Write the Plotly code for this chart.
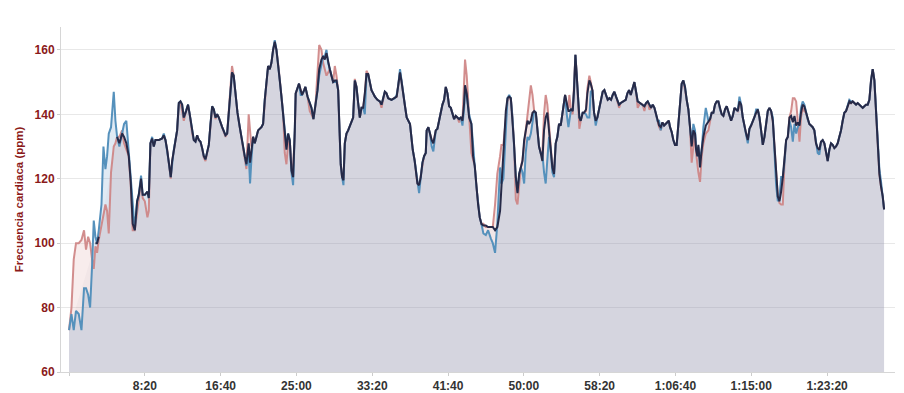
import plotly.graph_objects as go

# time in seconds
seconds = [
    0, 16, 31, 46, 64, 82, 99, 112, 126, 139,
    152, 163, 174, 185, 196, 214, 227, 240, 251, 262,
    277, 295, 306, 317, 332, 350, 363, 378, 394, 407,
    420, 434, 449, 460, 475, 486, 500, 517, 526, 537,
    548, 559, 570, 592, 614, 625, 636, 647, 658, 671,
    680, 691, 713, 724, 735, 746, 757, 772, 785, 796,
    812, 823, 834, 845, 856, 867, 878, 889, 900, 922,
    933, 944, 955, 966, 977, 988, 1010, 1032, 1043, 1060,
    1075, 1086, 1097, 1111, 1126, 1137, 1148, 1159, 1170, 1185,
    1194, 1203, 1214, 1225, 1247, 1269, 1280, 1291, 1302, 1313,
    1324, 1335, 1346, 1357, 1368, 1379, 1390, 1401, 1412, 1423,
    1434, 1445, 1456, 1467, 1478, 1489, 1495, 1506, 1517, 1528,
    1537, 1551, 1559, 1573, 1588, 1599, 1612, 1625, 1639, 1650,
    1665, 1676, 1687, 1698, 1709, 1720, 1731, 1742, 1753, 1764,
    1775, 1786, 1792, 1801, 1810, 1819, 1830, 1841, 1852, 1863,
    1874, 1885, 1896, 1907, 1918, 1929, 1940, 1951, 1962, 1973,
    1984, 1995, 2006, 2017, 2034, 2050, 2061, 2072, 2083, 2094,
    2105, 2127, 2149, 2161, 2170, 2183, 2192, 2205, 2216, 2227,
    2238, 2249, 2258, 2267, 2280, 2289, 2298, 2309, 2320, 2331,
    2342, 2353, 2359, 2370, 2381, 2392, 2403, 2419, 2430, 2441,
    2452, 2463, 2474, 2485, 2496, 2507, 2518, 2529, 2540, 2551,
    2562, 2573, 2584, 2595, 2606, 2612, 2623, 2639, 2654, 2665,
    2676, 2687, 2698, 2709, 2720, 2733, 2749, 2764, 2782, 2795,
    2810, 2825, 2843, 2852, 2865, 2881, 2892, 2903, 2914, 2925,
    2935, 2947, 2958, 2969, 2980, 2991, 3002, 3012, 3024, 3034,
    3046, 3057, 3068, 3079, 3090, 3100, 3111, 3122, 3133, 3144,
    3155, 3166, 3177, 3188, 3199, 3210, 3221, 3232, 3243, 3254,
    3261, 3272, 3283, 3294, 3300, 3311, 3322, 3331, 3340, 3349,
    3360, 3366, 3375, 3388, 3397, 3410, 3419, 3432, 3441, 3452,
    3463, 3474, 3485, 3496, 3507, 3520, 3531, 3542, 3553, 3564,
    3575, 3586, 3597, 3608, 3617, 3628, 3639, 3656, 3672, 3683,
    3694, 3705, 3718, 3729, 3740, 3751, 3766, 3784, 3795, 3806,
    3817, 3828, 3839, 3850, 3861, 3872, 3881, 3892, 3903, 3914,
    3925, 3936, 3947, 3956, 3964, 3975, 3986, 3997, 4008, 4019,
    4030, 4041, 4052, 4063, 4074, 4085, 4096, 4107, 4118, 4129,
    4136, 4145, 4151, 4162, 4173, 4184, 4200, 4217, 4228, 4239,
    4250, 4261, 4272, 4283, 4294, 4305, 4316, 4327, 4338, 4349,
    4360, 4367, 4378, 4389, 4400, 4411, 4422, 4433, 4444, 4455,
    4466, 4477, 4488, 4499, 4510, 4521, 4532, 4543, 4554, 4565,
    4576, 4587, 4598, 4609, 4620, 4631, 4642, 4653, 4664, 4675,
    4686, 4697, 4708, 4719, 4730, 4741, 4752, 4763, 4774, 4785,
    4796, 4807, 4818, 4828, 4839, 4850, 4861, 4872, 4883, 4894,
    4905, 4916, 4927, 4938, 4949, 4960, 4971, 4982, 4993, 5004,
    5015, 5026, 5037, 5048, 5059, 5070, 5081, 5092, 5103, 5114,
    5125, 5136, 5147, 5158, 5169, 5180, 5191, 5202, 5213, 5224,
    5235, 5246, 5257, 5268, 5279, 5290, 5301, 5312, 5323, 5334,
    5345, 5356, 5367, 5376,
]

# combined heart rate (dark line)
hr_combined = [
    73, None, None, None, None, None, None, None, None, None,
    None, None, 100, 100, 102, None, None, None, None, None,
    None, None, None, 133, 131, 134, 133, 131, 127, 119,
    106, 104, 113, 115, 120, 115, 115, 116, 114, 131,
    132.5, 130, 132, 132, 132.5, 133.5, 132, 129, 125, 120.5,
    125.5, 129, 135, 143.5, 144, 143, 139, 141, 143, 140,
    135, 132, 131.5, 133.5, 132, 131.5, 129.5, 127, 126, 130.5,
    137, 142.5, 141.5, 139, 140, 139, 136, 133.5, 134, 145.5,
    153, 152, 146.5, 140.5, 136, 133, 129, 127, 124.5, 131,
    125, 129, 133, 131, 135, 136, 137, 144.5, 149.5, 155,
    154, 156, 160, 162.5, 160, 156, 150.5, 145.5, 140.5, 135,
    129, 134, 132, 122.5, 120.5, 135, 146.5, 148, 149.5, 147.5,
    146, 147.5, 148.5, 145.5, 143.5, 142, 138.5, 142.5, 147.5, 154,
    157, 158, 157, 159, 156, 154, 152, 150, 150.5, 150.5,
    147.5, 135, 124.5, 120.5, 119.5, 131, 134, 135, 136.5, 138,
    139, 150.5, 148.5, 143.5, 139, 142, 142, 146.5, 152.5, 152.5,
    149.5, 147.5, 146.5, 145.5, 144.5, 144, 143, 145, 147, 146.5,
    145, 144.5, 145, 145.5, 148.5, 153, 150.5, 145.5, 142.5, 139,
    138, 137, 133, 129, 125.5, 122.5, 118.5, 118, 120.5, 125,
    127, 128, 135, 136, 134, 132, 131, 135, 135.5, 138,
    141.5, 143, 144.5, 148.5, 146.5, 142.5, 142, 140.5, 138.5, 139.5,
    139, 138.5, 139, 138, 143.5, 149, 146.5, 139, 137, 127,
    124, 117.5, 112, 108, 106, 105.5, 105.5, 105, 105, 105,
    104, 105, 110, 118, 130, 141, 145, 145.5, 145, 139,
    131, 120.5, 115.5, 121.5, 123.5, 125.5, 132, 135, 138, 137,
    138, 140.5, 141, 140.5, 135, 130, 128, 125.5, 135, 139,
    140.5, 135, 129, 123.5, 121.5, 131, 133, 137, 136.5, 140.5,
    142.5, 146, 143.5, 141, 141, 141.5, 141, 147.5, 158.5, 152.5,
    142.5, 139, 138, 140.5, 140.5, 141.5, 146.5, 150.5, 149.5, 147.5,
    140.5, 138, 139, 141.5, 143.5, 147, 147.5, 146, 144.5, 145,
    144.5, 146, 147, 145.5, 144, 143, 143.5, 144, 144.5, 146.5,
    147.5, 146, 148.5, 150, 147, 144, 143.5, 143, 142.5, 143.5,
    144, 143, 142, 143, 142, 140, 138, 136.5, 136, 137.5,
    136.5, 137, 137.5, 138, 136, 134.5, 132, 130.5, 130.5, 137,
    145.5, 149.5, 150.5, 148.5, 144.5, 141.5, 136, 130, 135, 134,
    129, 127, 130.5, 123.5, 129, 133, 136.5, 137.5, 138.5, 140.5,
    140.5, 143, 144, 144, 141.5, 140, 139.5, 141.5, 142.5, 141,
    139, 138, 139.5, 142, 141.5, 141, 144, 143, 139, 136,
    134, 132, 135.5, 136.5, 138, 139, 140.5, 141.5, 139, 135,
    130.5, 133, 137, 141, 142, 141, 138, 129, 120.5, 114.5,
    113, 116, 120.5, 125.5, 132, 133, 139, 139.5, 137.5, 139.5,
    136.5, 137.5, 136.5, 140.5, 143, 142.5, 140.5, 138.5, 137, 136.5,
    136, 135, 131, 129.5, 129, 131.5, 132, 131, 128.5, 125.5,
    129, 131, 130.5, 129.5, 130, 131, 133, 135, 138, 140.5,
    141, 142.5, 144, 143.5, 144, 143.5, 143, 143.5, 143, 142.5,
    142, 142.5, 143, 143, 144.5, 150.5, 154, 150.5, 140.5, 128,
    121.5, 117.5, 114.5, 110.5,
]

# device 1 (red line)
hr_red = [
    73, 80, 95, 100, 100, 101, 104, 98, 102, 100,
    95, 92, 99, 97, 101, 106, 109, 112, 110, 103,
    122, 130, 131, 133, 133, 135, 131, 129, 127, 118,
    104, 104, 110, 114, 119, 114, 113, 108, 110, 131,
    132, 130, 132, 132, 132.5, 133.5, 132, 129, 124, 120,
    125.5, 129, 135, 143, 143.5, 141, 138, 141, 142.5, 140,
    134, 132, 131.5, 133.5, 132, 131.5, 129.5, 126.5, 125.5, 130.5,
    137, 142, 141, 138.5, 140, 139, 136, 133, 134, 145.5,
    155, 152, 146.5, 140.5, 136, 133, 129, 127, 123, 140,
    134, 130, 133, 131, 135, 136, 137, 144.5, 149.5, 155,
    154, 156, 160, 162, 160, 156, 150.5, 145.5, 140.5, 128,
    124.5, 131, 132, 123, 124, 133, 146.5, 148, 149.5, 147.5,
    146, 147.5, 148.5, 145.5, 141, 140, 138.5, 142.5, 152, 161.5,
    160, 156, 154, 152, 153, 154, 152, 150, 155, 152,
    147.5, 135, 124.5, 120.5, 120, 131, 134, 135, 136.5, 138,
    139, 151, 148.5, 143.5, 139, 142, 142, 146, 153.5, 152.5,
    149.5, 147.5, 146.5, 145.5, 144.5, 144, 142, 145, 147, 146.5,
    145, 144.5, 145, 145.5, 148.5, 153, 150.5, 145.5, 142.5, 139,
    138, 137, 133, 129, 125.5, 122.5, 118.5, 118, 120.5, 124,
    127, 128, 135, 136, 134, 132, 131, 135, 135.5, 138,
    141.5, 143, 144.5, 148.5, 146.5, 142.5, 142, 140.5, 138.5, 139.5,
    139, 137.5, 139, 138, 150, 157, 152, 140, 128, 126,
    124, 117.5, 112, 108, 106, 106, 105, 105, 105, 105,
    112, 121.5, 127, 130.5, 130.5, 140, 144, 145, 145, 139,
    131, 113.5, 112, 118, 123.5, 126, 131, 135, 140, 145,
    149, 146, 141, 140.5, 135, 130, 128, 128, 140, 146,
    143, 137, 129, 124, 122, 131, 133, 137, 136.5, 140.5,
    142.5, 146, 143, 142, 146, 141.5, 140, 147.5, 158.5, 152.5,
    142.5, 135.5, 138, 140.5, 140.5, 141, 148, 152, 150, 147.5,
    140.5, 138, 139, 141.5, 143.5, 147, 147.5, 146, 144.5, 145,
    144.5, 146, 147, 145.5, 144, 142, 143.5, 144, 144.5, 146.5,
    147.5, 146, 148.5, 150, 147, 142, 143.5, 143, 141, 143.5,
    144, 141.5, 142, 143, 142, 140, 138, 136, 135, 137.5,
    136.5, 137, 137.5, 138, 136, 134.5, 132, 130.5, 130.5, 137,
    145.5, 149.5, 150.5, 147, 144.5, 141.5, 136, 125, 130, 134,
    128, 124, 122, 119, 127, 131, 134, 135, 138.5, 140.5,
    140.5, 143, 144, 144, 141.5, 140, 139.5, 141.5, 142.5, 141,
    139, 138, 139.5, 142, 141.5, 141, 143, 143, 139, 136,
    134, 132, 135.5, 136.5, 138, 139, 140.5, 141.5, 139, 135,
    130.5, 133, 137, 141, 142, 141, 138, 131, 122, 114.5,
    112.5, 112, 112, 125, 132, 133, 139, 141, 145, 145,
    144, 137, 131.5, 139, 142, 141, 140.5, 138.5, 137, 136.5,
    136, 135, 131, 129, 128.5, 131.5, 132, 131, 128.5, 125.5,
    129, 131, 130.5, 129.5, 130, 131, 133, 135, 138, 140.5,
    141, 142.5, 144, 143.5, 144, 143.5, 143, 143.5, 143, 142.5,
    142, 142.5, 143, 143, 144.5, 150.5, 154, 150.5, 140.5, 128,
    121.5, 117.5, 114.5, 110.5,
]

# device 2 (blue line)
hr_blue = [
    73, 78, 73, 79, 78, 73, 86, 86, 84, 80,
    93, 107, 102, 100, 104, 112, 130, 123, 127, 134,
    136, 147, 138, 133, 130, 134, 137, 138, 128, 122,
    112, 104, 113, 115, 121, 115, 115, 116, 114, 131,
    133, 130, 132, 132, 132.5, 134, 132, 129, 125, 120.5,
    125.5, 129, 135, 143.5, 144, 143, 139, 141, 143, 140,
    135, 132, 131.5, 133.5, 132, 131.5, 129.5, 127, 126, 130.5,
    137, 142.5, 141.5, 139, 140, 139, 136, 133.5, 134, 145.5,
    153, 152, 146.5, 140.5, 136, 133, 129, 127, 124, 128,
    118.5, 126, 133, 131, 135, 136, 137, 144.5, 149.5, 155,
    154, 156, 160, 163, 160, 156, 150.5, 145.5, 140.5, 135,
    130, 134, 132, 122, 118, 135, 146.5, 148, 149.5, 146,
    146, 147.5, 148.5, 145.5, 143.5, 142, 138.5, 142.5, 147.5, 152,
    156, 158, 158, 160, 156, 154, 152, 150, 150, 150.5,
    147.5, 135, 124.5, 120.5, 118, 131, 134, 135, 136.5, 138,
    139, 150.5, 148.5, 143.5, 139, 142, 142, 140, 152.5, 152.5,
    149.5, 147.5, 146.5, 145.5, 144.5, 144, 143, 145, 147, 146.5,
    145, 144.5, 145, 146, 148.5, 154, 150.5, 145.5, 142.5, 139,
    138, 137, 133, 129, 125.5, 122.5, 118.5, 115.5, 120.5, 125,
    127, 128, 135, 136, 134, 130, 128.5, 135, 135.5, 138,
    141.5, 143, 144.5, 148.5, 146.5, 142.5, 142, 140.5, 138.5, 139.5,
    139, 138.5, 139, 136.5, 142, 147, 146, 140, 137, 129,
    124, 117.5, 112, 108, 106, 103, 102.5, 104, 101.5, 100,
    97, 106, 123.5, 118.5, 120, 138, 145, 146, 145, 139,
    131, 120, 116, 121.5, 123.5, 122, 118.5, 128, 133, 132,
    134, 138, 141, 140.5, 135, 130, 128, 128, 122, 118.5,
    126, 133, 129, 122, 120.5, 131, 133, 137, 136.5, 140.5,
    142.5, 146, 140, 136, 138, 141.5, 141.5, 147.5, 158.5, 152.5,
    142.5, 139, 138, 140.5, 140.5, 140, 139, 139, 147, 147.5,
    140.5, 136.5, 139, 141.5, 143.5, 147, 147.5, 146, 144.5, 145,
    144.5, 146, 147, 145.5, 144, 143, 143.5, 144, 144.5, 146.5,
    147.5, 146, 148.5, 150, 147, 144, 143.5, 143, 142.5, 143.5,
    144, 143, 142, 143, 142, 140, 138, 138, 135, 137.5,
    136.5, 137, 137.5, 138, 136, 134.5, 132, 130.5, 130.5, 137,
    145.5, 149.5, 150.5, 148.5, 144.5, 141.5, 136, 131, 137, 135,
    130, 127, 130, 126, 129, 136, 142, 138, 138.5, 140.5,
    140.5, 143, 144, 144, 141.5, 140, 139.5, 141.5, 142.5, 141,
    139, 138, 139.5, 142, 141.5, 141, 145.5, 143, 139, 136,
    134, 131, 135.5, 136.5, 138, 139, 141.5, 141.5, 139, 135,
    130.5, 133, 137, 141, 142, 141, 139, 129, 118, 113,
    114, 120.5, 120.5, 125, 132, 133, 138, 136, 131.5, 137,
    134, 136, 137, 142, 144, 143, 140.5, 138.5, 137, 136.5,
    136, 135, 131, 128, 127.5, 131.5, 132, 131, 128.5, 125.5,
    129, 131, 130.5, 129.5, 130, 131, 133, 135, 138, 140.5,
    141, 142.5, 144.5, 144, 144, 143.5, 143, 143.5, 143, 142.5,
    142, 142.5, 143, 143, 144.5, 150.5, 154, 150.5, 140.5, 129,
    123, 119, 114.5, 110.5,
]

tick_seconds = [0, 500, 1000, 1500, 2000, 2500, 3000, 3500, 4000, 4500, 5000]
tick_labels = ["", "8:20", "16:40", "25:00", "33:20", "41:40", "50:00",
               "58:20", "1:06:40", "1:15:00", "1:23:20"]
y_ticks = [60, 80, 100, 120, 140, 160]

fig = go.Figure()

# fills (drawn first, under all lines)
fill_specs = [
    (hr_red, "rgba(215,150,150,0.18)"),
    (hr_blue, "rgba(100,150,200,0.20)"),
    (hr_combined, "rgba(60,70,110,0.03)"),
]
for ys, fc in fill_specs:
    fig.add_trace(go.Scatter(x=seconds, y=ys, mode="lines", line=dict(width=0),
                             fill="tozeroy", fillcolor=fc, hoverinfo="skip",
                             showlegend=False))

line_specs = [
    (hr_red, "rgba(205,130,130,0.9)", 2),
    (hr_blue, "rgb(85,145,188)", 2),
    (hr_combined, "rgb(38,42,72)", 2),
]
for ys, lc, w in line_specs:
    fig.add_trace(go.Scatter(x=seconds, y=ys, mode="lines",
                             line=dict(color=lc, width=w),
                             showlegend=False))

# page body has an 8px default margin, so the figure is sized to fit the window
fig.update_layout(
    width=896, height=385,
    margin=dict(l=53, r=9, t=19, b=21, autoexpand=False),
    paper_bgcolor="white", plot_bgcolor="white",
    font=dict(family="Liberation Sans, Arial, sans-serif"),
)
fig.update_xaxes(
    range=[-53, 5448],
    tickmode="array", tickvals=tick_seconds, ticktext=tick_labels,
    tickfont=dict(size=12, color="#333333", weight="bold"),
    ticks="outside", ticklen=3, tickcolor="#cccccc",
    showgrid=False, zeroline=False,
    showline=True, linecolor="#d6d6d6", linewidth=1,
    automargin=False,
)
fig.update_yaxes(
    range=[60, 167.1],
    tickmode="array", tickvals=y_ticks,
    tickfont=dict(size=12, color="#8b1a1a", weight="bold"),
    ticks="outside", ticklen=3, tickcolor="#cccccc",
    showgrid=True, gridcolor="#e8e8e8", gridwidth=1,
    zeroline=False,
    showline=True, linecolor="#d6d6d6", linewidth=1,
    title=dict(text="Frecuencia cardiaca (ppm)",
               font=dict(size=11.5, color="#8b1a1a", weight="bold"),
               standoff=8),
    automargin=False,
)

fig.write_html("out.html")
